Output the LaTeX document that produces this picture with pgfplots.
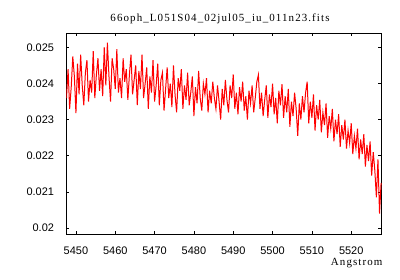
\documentclass[border=0pt]{standalone}
\usepackage{pgfplots}
\pgfplotsset{compat=1.18}
\usepackage{fontspec}
\setmainfont{Liberation Serif}
\newfontfamily\ticksfont{Liberation Sans}
\newfontfamily\titlefont[LetterSpace=10]{Liberation Serif}

\begin{document}
\begin{tikzpicture}
\useasboundingbox (-66.5bp,-46bp) rectangle (333.5bp,234bp);
\begin{axis}[
    at={(0,0)}, anchor=south west,
    scale only axis,
    width=315bp, height=201bp,
    xmin=5447.6, xmax=5527.7,
    ymin=0.019834, ymax=0.0254,
    xtick={5450,5460,5470,5480,5490,5500,5510,5520},
    ytick={0.02,0.021,0.022,0.023,0.024,0.025},
    scaled y ticks=false,
    scaled x ticks=false,
    tick align=inside,
    major tick length=3bp,
    minor tick num=0,
    axis line style={black, line width=0.8bp},
    tick style={black, line width=0.7bp},
    /pgf/number format/assume math mode=true,
    ticklabel style={font=\fontsize{11}{13}\ticksfont},
    xticklabel style={/pgf/number format/set thousands separator={}, yshift=-9bp},
    yticklabel style={/pgf/number format/fixed, /pgf/number format/precision=3, xshift=-9bp},
]
\addplot[color=red, line width=1bp, mark=none] coordinates {
(5447.6,0.02360) (5448.0,0.02440) (5448.4,0.02330) (5448.8,0.02390) (5449.2,0.02475) (5449.6,0.02420)
(5450.0,0.02318) (5450.4,0.02455) (5450.8,0.02370) (5451.2,0.02480) (5451.6,0.02395) (5452.0,0.02340)
(5452.4,0.02430) (5452.8,0.02465) (5453.2,0.02350) (5453.6,0.02410) (5454.0,0.02375) (5454.4,0.02490)
(5454.8,0.02360) (5455.2,0.02425) (5455.6,0.02470) (5456.0,0.02380) (5456.4,0.02440) (5456.8,0.02365)
(5457.2,0.02500) (5457.6,0.02395) (5458.0,0.02513) (5458.4,0.02420) (5458.8,0.02350) (5459.2,0.02470)
(5459.6,0.02440) (5460.0,0.02385) (5460.4,0.02495) (5460.8,0.02375) (5461.2,0.02415) (5461.6,0.02360)
(5462.0,0.02470) (5462.4,0.02405) (5462.8,0.02440) (5463.2,0.02355) (5463.6,0.02425) (5464.0,0.02480)
(5464.4,0.02370) (5464.8,0.02410) (5465.2,0.02450) (5465.6,0.02340) (5466.0,0.02435) (5466.4,0.02385)
(5466.8,0.02480) (5467.2,0.02360) (5467.6,0.02400) (5468.0,0.02445) (5468.4,0.02330) (5468.8,0.02420)
(5469.2,0.02375) (5469.6,0.02465) (5470.0,0.02350) (5470.4,0.02395) (5470.8,0.02455) (5471.2,0.02340)
(5471.6,0.02410) (5472.0,0.02430) (5472.4,0.02325) (5472.8,0.02385) (5473.2,0.02445) (5473.6,0.02360)
(5474.0,0.02400) (5474.4,0.02335) (5474.8,0.02450) (5475.2,0.02370) (5475.6,0.02320) (5476.0,0.02415)
(5476.4,0.02380) (5476.8,0.02440) (5477.2,0.02330) (5477.6,0.02395) (5478.0,0.02355) (5478.4,0.02430)
(5478.8,0.02340) (5479.2,0.02375) (5479.6,0.02420) (5480.0,0.02310) (5480.4,0.02390) (5480.8,0.02345)
(5481.2,0.02435) (5481.6,0.02360) (5482.0,0.02325) (5482.4,0.02400) (5482.8,0.02370) (5483.2,0.02415)
(5483.6,0.02320) (5484.0,0.02380) (5484.4,0.02345) (5484.8,0.02405) (5485.2,0.02360) (5485.6,0.02330)
(5486.0,0.02395) (5486.4,0.02350) (5486.8,0.02300) (5487.2,0.02385) (5487.6,0.02340) (5488.0,0.02410)
(5488.4,0.02355) (5488.8,0.02320) (5489.2,0.02395) (5489.6,0.02360) (5490.0,0.02425) (5490.4,0.02330)
(5490.8,0.02375) (5491.2,0.02315) (5491.6,0.02390) (5492.0,0.02350) (5492.4,0.02405) (5492.8,0.02325)
(5493.2,0.02365) (5493.6,0.02300) (5494.0,0.02380) (5494.4,0.02345) (5494.8,0.02395) (5495.2,0.02320)
(5495.6,0.02360) (5496.0,0.02405) (5496.4,0.02424) (5496.8,0.02330) (5497.2,0.02375) (5497.6,0.02310)
(5498.0,0.02355) (5498.4,0.02395) (5498.8,0.02305) (5499.2,0.02370) (5499.6,0.02335) (5500.0,0.02400)
(5500.4,0.02315) (5500.8,0.02360) (5501.2,0.02290) (5501.6,0.02380) (5502.0,0.02340) (5502.4,0.02398)
(5502.8,0.02305) (5503.2,0.02365) (5503.6,0.02320) (5504.0,0.02385) (5504.4,0.02280) (5504.8,0.02350)
(5505.2,0.02310) (5505.6,0.02375) (5506.0,0.02330) (5506.4,0.02255) (5506.8,0.02345) (5507.2,0.02300)
(5507.6,0.02365) (5508.0,0.02320) (5508.4,0.02375) (5508.8,0.02405) (5509.2,0.02290) (5509.6,0.02350)
(5510.0,0.02305) (5510.4,0.02370) (5510.8,0.02270) (5511.2,0.02340) (5511.6,0.02300) (5512.0,0.02355)
(5512.4,0.02265) (5512.8,0.02320) (5513.2,0.02285) (5513.6,0.02345) (5514.0,0.02250) (5514.4,0.02310)
(5514.8,0.02275) (5515.2,0.02330) (5515.6,0.02240) (5516.0,0.02300) (5516.4,0.02260) (5516.8,0.02315)
(5517.2,0.02225) (5517.6,0.02285) (5518.0,0.02245) (5518.4,0.02300) (5518.8,0.02220) (5519.2,0.02270)
(5519.6,0.02235) (5520.0,0.02290) (5520.4,0.02205) (5520.8,0.02255) (5521.2,0.02220) (5521.6,0.02275)
(5522.0,0.02190) (5522.4,0.02245) (5522.8,0.02205) (5523.2,0.02260) (5523.6,0.02170) (5524.0,0.02230)
(5524.4,0.02185) (5524.8,0.02240) (5525.2,0.02145) (5525.6,0.02210) (5526.0,0.02160) (5526.4,0.02085)
(5526.8,0.02190) (5527.2,0.02040) (5527.6,0.02125)
};
\end{axis}
\node[font=\fontsize{11}{13}\titlefont, anchor=base] at (153.5bp,212bp) {66oph\_L051S04\_02jul05\_iu\_011n23.fits};
\node[font=\fontsize{11}{13}\titlefont, anchor=base east] at (319.5bp,-31bp) {Angstrom};
\end{tikzpicture}
\end{document}
